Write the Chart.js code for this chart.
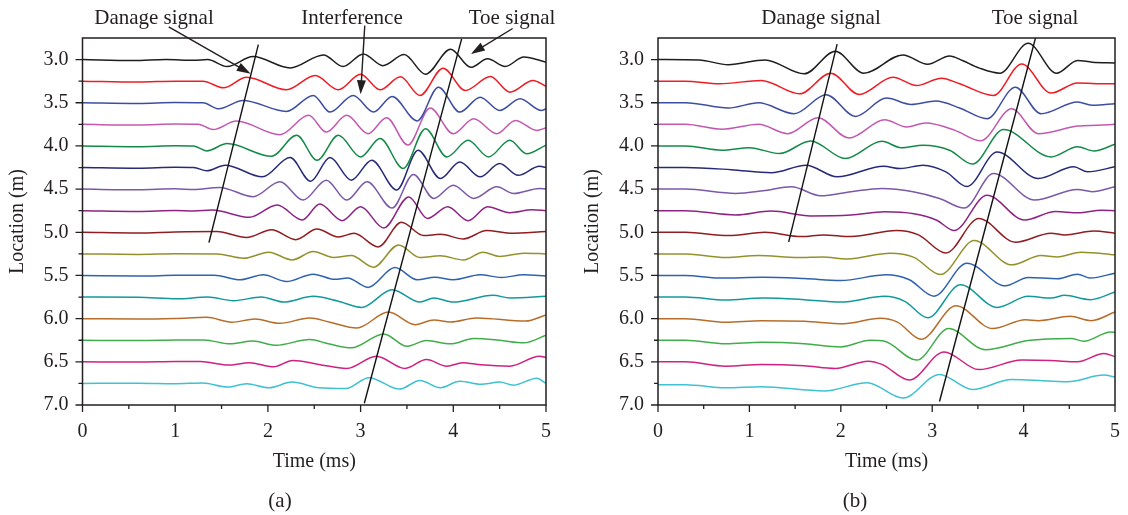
<!DOCTYPE html>
<html>
<head>
<meta charset="utf-8">
<script src="https://cdn.jsdelivr.net/npm/chart.js@4/dist/chart.umd.min.js"></script>
<style>
body{margin:0;background:#fff;}
#wrap{position:relative;width:1128px;height:515px;overflow:hidden;font-family:"Liberation Serif","DejaVu Serif",serif;color:#231f20;}
canvas{position:absolute;top:0;}
.lbl{position:absolute;font-size:21px;transform:translate(-50%,-50%);white-space:nowrap;}
</style>
</head>
<body>
<div id="wrap">
<canvas id="chartA" width="575" height="515" style="left:0"></canvas>
<canvas id="chartB" width="553" height="515" style="left:575px"></canvas>
<div class="lbl" style="left:154px;top:17px">Danage signal</div>
<div class="lbl" style="left:352px;top:17px">Interference</div>
<div class="lbl" style="left:512px;top:17px">Toe signal</div>
<div class="lbl" style="left:821px;top:17px">Danage signal</div>
<div class="lbl" style="left:1035px;top:17px">Toe signal</div>
<div class="lbl" style="left:280px;top:500px">(a)</div>
<div class="lbl" style="left:855px;top:500px">(b)</div>
</div>
<script>
// sensor locations (m), one trace each
var locations = [3.0,3.25,3.5,3.75,4.0,4.25,4.5,4.75,5.0,5.25,5.5,5.75,6.0,6.25,6.5,6.75]
var traceColors = ['#1e1e1e','#ee1c25','#3d4ea1','#c259b0','#138a48','#262a78','#7b58a8','#8e2384',
                   '#8f1d21','#94912d','#2f62ad','#13999b','#b76d29','#41ad49','#cf2180','#3fc1d1']
var xTicks = [0,1,2,3,4,5]
var yTicks = [3.0,3.5,4.0,4.5,5.0,5.5,6.0,6.5,7.0]

// (a) wave peaks/troughs: [time ms, amplitude in 0.01 m, up = +]
var tracesA = [
 [[0,0],[0.55,-1.2],[0.9,0],[1.2,-0.8],[1.35,0],[1.56,-8],[1.84,3.5],[2.24,-9.6],[2.60,5.4],[2.81,-8],[3.03,6.5],[3.24,-7],[3.47,5.8],[3.70,-17],[3.97,12],[4.19,-9],[4.37,1],[4.56,-8],[4.76,3],[5.0,-3]],
 [[0,0],[0.6,-1],[1.0,0],[1.3,0],[1.52,-7.7],[1.77,4.6],[2.20,-10],[2.51,6.5],[2.76,-10],[3.00,8],[3.21,-10],[3.43,5],[3.64,-16.5],[3.89,15],[4.13,-10.8],[4.40,5.4],[4.61,-12.7],[4.86,0.8],[5.0,-6]],
 [[0,0],[0.6,-0.8],[1.0,0.3],[1.3,0],[1.47,-7],[1.73,2.7],[2.20,-10],[2.49,8.5],[2.67,-10.8],[2.92,8.5],[3.14,-10.8],[3.34,7.3],[3.61,-21],[3.84,18],[4.07,-10.8],[4.29,6.5],[4.50,-9],[4.72,4.6],[4.95,-9],[5.0,-7]],
 [[0,0],[0.6,-0.8],[1.0,0.3],[1.25,0],[1.41,-6],[1.66,3.8],[2.13,-12],[2.44,10.4],[2.63,-9],[2.85,10.4],[3.08,-10.8],[3.28,7.7],[3.51,-24],[3.75,19],[4.00,-10.8],[4.22,6.5],[4.47,-10.8],[4.67,4.6],[4.90,-7],[5.0,-4]],
 [[0,0],[0.6,-0.8],[1.0,0.3],[1.2,0],[1.34,-5.8],[1.56,2.7],[2.04,-12],[2.31,12.3],[2.53,-16.5],[2.76,12.3],[3.00,-12.7],[3.21,8.5],[3.46,-26],[3.70,20],[3.93,-12.7],[4.16,6.5],[4.38,-12.7],[4.61,6.5],[4.79,-9],[5.0,1]],
 [[0,0],[0.6,-0.8],[1.0,0.3],[1.2,0],[1.34,-3.8],[1.54,2.7],[1.94,-10.8],[2.24,11.5],[2.46,-16],[2.67,11.5],[2.90,-14.6],[3.12,8.5],[3.39,-26],[3.62,20],[3.86,-12.7],[4.07,6.5],[4.29,-10.8],[4.50,4.6],[4.70,-9],[4.93,1.5],[5.0,0]],
 [[0,0],[0.6,-0.8],[1.0,0.3],[1.2,-0.5],[1.48,2],[1.84,-8.8],[2.13,8.5],[2.38,-12.7],[2.63,10.4],[2.85,-12.7],[3.07,8.5],[3.34,-22],[3.57,17],[3.79,-10.8],[4.00,4.6],[4.22,-10.8],[4.47,2.7],[4.65,-5],[4.93,0.8],[5.0,0]],
 [[0,0],[0.6,-0.8],[1.0,0.3],[1.2,-0.3],[1.40,0.8],[1.80,-7.7],[2.10,6.5],[2.37,-10.8],[2.56,7.7],[2.80,-11.5],[3.00,4.6],[3.25,-20],[3.52,16],[3.72,-9],[3.94,4.6],[4.16,-11.5],[4.37,4.6],[4.61,-2.3],[4.85,1],[5.0,0]],
 [[0,0],[0.6,-0.8],[1.0,0.3],[1.45,0.8],[1.77,-6],[2.04,3],[2.30,-8.5],[2.53,3.8],[2.76,-5.4],[2.93,-1.2],[3.19,-17],[3.44,11.5],[3.68,-3.8],[3.86,-2.3],[4.11,-7.7],[4.36,2],[4.61,-1],[5.0,1]],
 [[0,0],[0.6,-0.6],[1.0,0.2],[1.45,0],[1.74,-5],[2.01,2],[2.26,-7],[2.49,2.7],[2.71,-4.2],[2.90,-2],[3.14,-15.4],[3.41,10.4],[3.64,-4.2],[3.86,-2.3],[4.11,-7],[4.32,2],[4.50,-3],[4.76,0.8],[5.0,0]],
 [[0,0],[0.6,-0.6],[1.0,0.2],[1.42,0.4],[1.70,-5],[1.95,0.8],[2.20,-7],[2.49,1.5],[2.72,-4.5],[2.86,-3],[3.08,-13.8],[3.37,9.2],[3.61,-5],[3.80,-2],[4.00,-5],[4.29,0.8],[4.52,-2.3],[4.76,0.8],[5.0,-0.5]],
 [[0,0],[0.6,-0.3],[1.02,-2],[1.35,0],[1.63,-4.2],[1.93,0],[2.17,-5.8],[2.49,0.8],[2.75,-4.5],[3.01,-12],[3.34,8.5],[3.64,-5.8],[3.79,-1],[4.00,-5.8],[4.43,2],[4.61,-1],[5.0,0.8]],
 [[0,0],[0.6,-0.3],[1.0,0.3],[1.34,1.5],[1.61,-4.2],[1.86,-0.4],[2.13,-5.4],[2.45,0.8],[2.66,-3.8],[2.96,-10.8],[3.30,7.7],[3.59,-7],[3.79,-1.5],[3.97,-3.8],[4.25,0.8],[4.78,-2.8],[5.0,4.2]],
 [[0,0],[0.6,-0.4],[1.0,0.2],[1.31,0.4],[1.59,-4.2],[1.84,-1],[2.09,-5.8],[2.45,0.8],[2.65,-4],[2.90,-8.8],[3.25,7.3],[3.50,-7],[3.71,-0.4],[3.97,-4.2],[4.22,2],[4.50,0],[4.76,-3],[5.0,5.8]],
 [[0,0],[0.6,-0.3],[1.0,0.3],[1.27,0.3],[1.57,-3.8],[1.80,-1],[2.06,-5.8],[2.27,1.5],[2.55,-3],[2.85,-7.7],[3.17,6.5],[3.48,-7.7],[3.71,2.7],[3.93,-5],[4.10,-1],[4.30,-3.5],[4.61,-5],[4.93,6.5],[5.0,5]],
 [[0,0],[0.6,0.3],[1.0,-0.3],[1.30,0.4],[1.56,-4.2],[1.77,-0.4],[2.01,-5],[2.26,1.5],[2.55,-5],[2.84,-5.8],[3.09,6.7],[3.42,-6.6],[3.64,3.5],[3.86,-5],[4.07,2.5],[4.30,-1],[4.50,1.5],[4.65,-2],[4.90,6],[5.0,0]]
]

// (b) wave peaks/troughs: [time ms, amplitude in 0.01 m, up = +]
var tracesB = [
 [[0,0],[0.45,-0.5],[0.77,-6],[1.17,-0.4],[1.60,-16.5],[1.94,9.6],[2.25,-15.8],[2.68,5.4],[2.95,-5.4],[3.19,4.2],[3.33,-1],[3.51,-9.6],[3.74,-15.8],[4.05,19],[4.36,-15.8],[4.59,-1],[4.75,-3],[5.0,-4]],
 [[0,0],[0.3,0],[0.67,-3],[1.13,0.8],[1.55,-14.6],[1.89,9.2],[2.20,-15.4],[2.57,4.6],[2.83,-5],[3.10,3.5],[3.30,-3],[3.67,-16.5],[3.98,20],[4.30,-13.8],[4.59,-2],[4.80,-3],[5.0,-3]],
 [[0,0],[0.3,0],[0.77,-6],[1.10,0],[1.49,-12.7],[1.84,9.2],[2.16,-15.8],[2.50,5.4],[2.77,-2],[3.04,2],[3.30,-6],[3.60,-18.5],[3.91,18],[4.19,-12.7],[4.59,0.8],[4.76,-3],[5.0,-1]],
 [[0,0],[0.3,0],[0.70,-5.8],[1.10,0],[1.42,-10.8],[1.75,7.7],[2.09,-15.8],[2.48,5.4],[2.72,-3],[2.93,1.5],[3.25,-7],[3.53,-19],[3.87,18],[4.16,-10.8],[4.59,-2],[4.80,-1],[5.0,0]],
 [[0,0],[0.3,0],[0.70,-5],[1.0,-2],[1.33,-8.8],[1.67,5.8],[2.05,-14.6],[2.45,5.4],[2.66,-2],[2.90,0.8],[3.19,-5],[3.44,-21],[3.78,19],[4.30,-12.7],[4.59,-1],[4.77,-5.8],[5.0,2]],
 [[0,0],[0.3,0],[0.80,-2.5],[1.24,-6],[1.62,2.7],[1.96,-10.8],[2.47,1.5],[2.65,-1.2],[2.90,2.7],[3.15,-5],[3.38,-22],[3.71,18],[4.16,-12.7],[4.55,0.8],[4.70,-5],[5.0,0.8]],
 [[0,0],[0.3,0],[0.85,-5],[1.15,-2],[1.46,2.7],[1.78,-7.7],[2.11,-3],[2.45,0.8],[2.79,-3],[3.08,-10.8],[3.35,-22],[3.67,18],[4.12,-12.7],[4.59,-0.4],[4.75,-3],[5.0,2.7]],
 [[0,0],[0.3,0],[0.85,-5],[1.24,-0.4],[1.67,-6],[2.11,-5],[2.48,-1.2],[2.80,-3.5],[3.05,-11],[3.24,-23],[3.60,18],[4.01,-10.8],[4.35,-1],[4.60,-2.5],[4.85,0.5],[5.0,0]],
 [[0,0],[0.3,0],[0.77,-3.8],[1.17,0],[1.57,-5],[1.81,-3],[2.11,-5],[2.61,2],[2.85,-3],[3.15,-24],[3.51,16],[3.91,-11.5],[4.30,-1],[4.45,-3],[4.77,1.5],[5.0,-1]],
 [[0,0],[0.3,0],[0.74,-4.2],[1.10,-1.8],[1.53,-4.2],[1.80,-3.5],[2.07,-5.8],[2.54,0.8],[2.80,-4],[3.09,-24],[3.46,15.4],[3.87,-12.7],[4.19,-2],[4.37,-3.5],[4.63,2],[5.0,-1]],
 [[0,0],[0.3,0],[0.67,-3],[1.15,-2],[1.60,-3.5],[2.00,-5.8],[2.50,0.8],[2.75,-5],[3.02,-24],[3.38,14.2],[3.80,-12],[4.05,-2.3],[4.37,-3.8],[4.59,1.5],[4.73,-3],[5.0,2.7]],
 [[0,0],[0.3,0],[0.74,-3.5],[1.15,-1.2],[1.60,-3],[2.00,-5.8],[2.48,0.8],[2.70,-5],[2.95,-24],[3.31,14.2],[3.71,-12],[4.05,0.8],[4.30,-1.2],[4.45,2],[4.73,-3],[5.0,5.8]],
 [[0,0],[0.3,0],[0.74,-4.2],[1.13,-2.3],[1.60,-3],[2.03,-5.8],[2.43,0.4],[2.62,-4],[2.88,-24],[3.26,15],[3.66,-11.5],[4.02,-1.2],[4.16,-2.3],[4.51,2.7],[4.74,-2.3],[5.0,7.7]],
 [[0,0],[0.3,0],[0.74,-4.2],[1.13,-2.3],[1.60,-4],[2.00,-7.7],[2.32,0],[2.48,-1.2],[2.83,-23],[3.18,13.5],[3.58,-11],[4.05,-0.4],[4.52,2],[4.66,-1.2],[4.95,9.6],[5.0,9]],
 [[0,0],[0.3,0],[0.74,-5],[1.13,-3],[1.60,-4.5],[1.94,-7.7],[2.30,0.8],[2.45,-3],[2.75,-21],[3.13,11.5],[3.51,-9],[3.98,2],[4.30,1.5],[4.59,0],[4.88,9.6],[5.0,6]],
 [[0,-1.5],[0.3,-1.5],[0.74,-5],[1.13,-3.8],[1.82,-8.8],[2.29,0.8],[2.68,-17],[3.08,10.4],[3.44,-7],[3.87,4.6],[4.27,2.7],[4.48,2],[4.88,9.6],[5.0,7.3]]
]

// straight marker lines [time, location]
var damageLineA = [[1.364,5.119],[1.897,2.827]]
var toeLineA = [[3.04,6.98],[4.09,2.76]]
var damageLineB = [[1.43,5.11],[1.96,2.82]]
var toeLineB = [[3.08,6.96],[4.13,2.75]]
// label arrows [fromTime, fromLoc, toTime, toLoc]
var arrowsA = [[0.93,2.62,1.814,3.165],[3.045,2.607,3.00,3.40],[4.64,2.64,4.19,2.934]]
var arrowsB = []

var FONT = '"Liberation Serif", "DejaVu Serif", serif'
var INK = '#231f20'

function drawArrow(ctx, x0, y0, x1, y1){
	var ang = Math.atan2(y1 - y0, x1 - x0), L = 14, W = 4.5
	var c = Math.cos(ang), s = Math.sin(ang)
	ctx.beginPath()
	ctx.moveTo(x0, y0)
	ctx.lineTo(x1 - c * L * 0.7, y1 - s * L * 0.7)
	ctx.stroke()
	ctx.beginPath()
	ctx.moveTo(x1, y1)
	ctx.lineTo(x1 - c * L + s * W, y1 - s * L - c * W)
	ctx.lineTo(x1 - c * L - s * W, y1 - s * L + c * W)
	ctx.closePath()
	ctx.fill()
}

var framePlugin = {
	id: 'frame',
	afterDatasetsDraw: function(chart, args, opts){
		var ctx = chart.ctx, a = chart.chartArea, x = chart.scales.x, y = chart.scales.y
		ctx.save()
		ctx.strokeStyle = INK
		ctx.fillStyle = INK
		ctx.lineWidth = 1.5
		ctx.strokeRect(a.left, a.top, a.right - a.left, a.bottom - a.top)
		ctx.lineWidth = 1.3
		ctx.beginPath()
		x.ticks.forEach(function(tk){
			var px = x.getPixelForValue(tk.value)
			var len = xTicks.indexOf(Math.round(tk.value * 100) / 100) >= 0 ? 7 : 4
			ctx.moveTo(px, a.bottom); ctx.lineTo(px, a.bottom + len)
		})
		y.ticks.forEach(function(tk){
			if (tk.value < 2.99) return
			var py = y.getPixelForValue(tk.value)
			var len = yTicks.indexOf(Math.round(tk.value * 100) / 100) >= 0 ? 7 : 4
			ctx.moveTo(a.left, py); ctx.lineTo(a.left - len, py)
		})
		ctx.stroke()
		ctx.lineWidth = 1.4
		;(opts.arrows || []).forEach(function(ar){
			drawArrow(ctx, x.getPixelForValue(ar[0]), y.getPixelForValue(ar[1]),
				x.getPixelForValue(ar[2]), y.getPixelForValue(ar[3]))
		})
		ctx.restore()
	}
}

function makeDatasets(traces, lines){
	var ds = traces.map(function(pts, i){
		return {
			data: pts.map(function(p){ return {x: p[0], y: locations[i] - p[1] / 100} }),
			borderColor: traceColors[i],
			borderWidth: 1.5,
			pointRadius: 0,
			cubicInterpolationMode: 'monotone',
			fill: false
		}
	})
	lines.forEach(function(l){
		ds.push({
			data: l.map(function(p){ return {x: p[0], y: p[1]} }),
			borderColor: '#111',
			borderWidth: 1.4,
			pointRadius: 0,
			tension: 0,
			order: -1
		})
	})
	return ds
}

function makeChart(id, traces, lines, arrows, yWidth, padRight){
	var tickFont = {family: FONT, size: 20}
	return new Chart(document.getElementById(id), {
		type: 'line',
		data: {datasets: makeDatasets(traces, lines)},
		options: {
			responsive: false,
			animation: false,
			devicePixelRatio: 1,
			events: [],
			layout: {padding: {top: 38, right: padRight, bottom: 40, left: 0}},
			plugins: {legend: {display: false}, tooltip: {enabled: false}, frame: {arrows: arrows}},
			scales: {
				x: {
					type: 'linear', min: 0, max: 5,
					border: {display: false},
					grid: {drawOnChartArea: false, tickLength: 7, color: 'rgba(0,0,0,0)'},
					ticks: {stepSize: 0.5, padding: 8, color: INK, font: tickFont, maxRotation: 0,
						callback: function(v){ return xTicks.indexOf(v) >= 0 ? String(v) : '' }},
					title: {display: true, text: 'Time (ms)', color: INK, font: tickFont, padding: {top: 0, bottom: 1}},
					afterFit: function(s){ s.height = 70 }
				},
				y: {
					type: 'linear', min: 2.75, max: 7, reverse: true,
					border: {display: false},
					grid: {drawOnChartArea: false, tickLength: 7, color: 'rgba(0,0,0,0)'},
					ticks: {stepSize: 0.25, padding: 7, color: INK, font: tickFont, autoSkip: false,
						callback: function(v){
							var r = Math.round(v * 100) / 100
							return yTicks.indexOf(r) >= 0 ? r.toFixed(1) : ''
						}},
					title: {display: true, text: 'Location (m)', color: INK, font: tickFont, padding: {top: 6, bottom: 0}},
					afterFit: function(s){ s.width = yWidth }
				}
			}
		},
		plugins: [framePlugin]
	})
}

makeChart('chartA', tracesA, [damageLineA, toeLineA], arrowsA, 82.5, 29)
makeChart('chartB', tracesB, [damageLineB, toeLineB], arrowsB, 83, 7)
</script>
</body>
</html>
